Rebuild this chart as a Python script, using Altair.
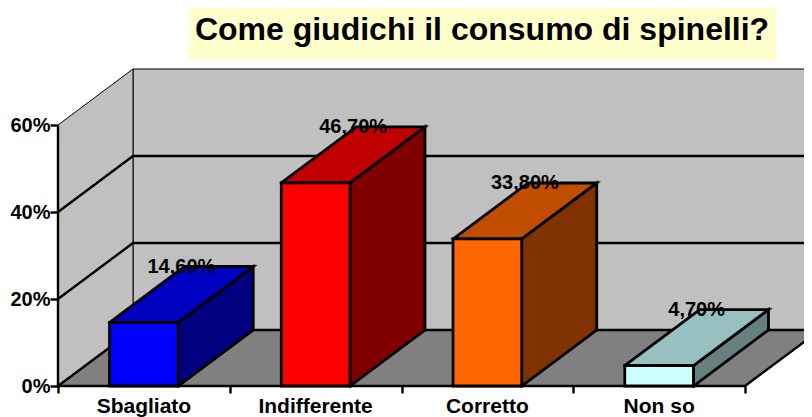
import altair as alt
import pandas as pd

categories = ["Sbagliato", "Indifferente", "Corretto", "Non so"]
values = [14.6, 46.7, 33.8, 4.7]
labels = ["14,60%", "46,70%", "33,80%", "4,70%"]
front_colors = ["#0000FF", "#FF0000", "#FF6600", "#CCFFFF"]
top_colors = ["#0000C0", "#C00000", "#C04D00", "#99C0C0"]
side_colors = ["#000080", "#800000", "#803300", "#668080"]
y_ticks = [0, 20, 40, 60]
title_text = "Come giudichi il consumo di spinelli?"

FONT = "Liberation Sans"
DX = 0.4367   # oblique projection: depth in category units
DY = 12.87    # oblique projection: depth in percent units
BAR_A, BAR_B = 0.3, 0.7
N = len(categories)
TOP = y_ticks[-1]

faces = []


def add_face(name, fill, stroke_width, pts):
    closed = pts + [pts[0]]
    for k, (x, y) in enumerate(closed):
        faces.append(dict(face=name, fill=fill, sw=stroke_width, k=k, x=x, y=y))


add_face("00back", "#C0C0C0", 1, [(DX, DY), (N + DX + 1, DY), (N + DX + 1, TOP + DY), (DX, TOP + DY)])
add_face("01left", "#C0C0C0", 1, [(0, 0), (DX, DY), (DX, TOP + DY), (0, TOP)])
add_face("02floor", "#808080", 2.4, [(0, 0), (N, 0), (N + DX, DY), (DX, DY)])

for i, v in enumerate(values):
    a, b = i + BAR_A, i + BAR_B
    p = f"{i + 10}"
    add_face(p + "a", side_colors[i], 2.8, [(b, 0), (b + DX, DY), (b + DX, v + DY), (b, v)])
    add_face(p + "b", top_colors[i], 2.8, [(a, v), (b, v), (b + DX, v + DY), (a + DX, v + DY)])
    add_face(p + "c", front_colors[i], 2.8, [(a, 0), (b, 0), (b, v), (a, v)])

wall_faces = pd.DataFrame([f for f in faces if f["face"] < "03"])
bar_faces = pd.DataFrame([f for f in faces if f["face"] >= "03"])

grid = []
for t in y_ticks[1:-1]:
    grid += [
        dict(g=t, k=0, x=0, y=t),
        dict(g=t, k=1, x=DX, y=t + DY),
        dict(g=t, k=2, x=N + DX + 1, y=t + DY),
    ]
grid += [dict(g=0, k=0, x=0, y=0), dict(g=0, k=1, x=0, y=TOP)]
grid_df = pd.DataFrame(grid)

xs = alt.Scale(domain=[0, 746 / 171.75], nice=False, zero=False)
ys = alt.Scale(domain=[0, 378 / 4.35], nice=False, zero=False)

x_axis = alt.Axis(values=list(range(N + 1)), labels=False, domain=False, grid=False,
                  tickColor="black", tickWidth=2.4, tickSize=7, title=None)
y_axis = alt.Axis(values=y_ticks, labelExpr="datum.value + '%'", domain=False, grid=False,
                  tickColor="black", tickWidth=2.4, tickSize=8, labelPadding=0,
                  labelFont=FONT, labelFontWeight="bold", labelFontSize=20,
                  labelColor="black", labelOverlap=False, title=None)
X = alt.X("x:Q", scale=xs, axis=x_axis)
Y = alt.Y("y:Q", scale=ys, axis=y_axis)


def polygons(df):
    return (
        alt.Chart(df)
        .mark_line(stroke="black", strokeJoin="miter", strokeCap="square")
        .encode(
            x=X,
            y=Y,
            detail="face:N",
            order="k:Q",
            fill=alt.Fill("fill:N", scale=None),
            strokeWidth=alt.StrokeWidth("sw:Q", scale=None),
        )
    )


walls = polygons(wall_faces)
bars = polygons(bar_faces)

grid_lines = (
    alt.Chart(grid_df)
    .mark_line(stroke="black", strokeWidth=2.4)
    .encode(x=X, y=Y, detail="g:N", order="k:Q")
)

label_df = pd.DataFrame(
    {
        "x": [i + 0.5 + DX / 2 for i in range(N)],
        "y": [v + DY for v in values],
        "t": labels,
    }
)
value_text = (
    alt.Chart(label_df)
    .mark_text(font=FONT, fontWeight="bold", fontSize=20, color="black", baseline="middle", align="center")
    .encode(x=X, y=Y, text="t:N")
)

cat_df = pd.DataFrame({"x": [i + 0.5 for i in range(N)], "y": [0] * N, "t": categories})
cat_text = (
    alt.Chart(cat_df)
    .mark_text(font=FONT, fontWeight="bold", fontSize=21, color="black", baseline="middle", align="center", dy=21)
    .encode(x=X, y=Y, text="t:N")
)

title_box = (
    alt.Chart(pd.DataFrame({"a": [0]}))
    .mark_rect(color="#FFFFCC")
    .encode(x=alt.value(131), x2=alt.value(718), y=alt.value(-6), y2=alt.value(52))
)
title_mark = (
    alt.Chart(pd.DataFrame({"t": [title_text]}))
    .mark_text(font=FONT, fontWeight="bold", fontSize=32, color="black", baseline="middle", align="center")
    .encode(x=alt.value(424), y=alt.value(22), text="t:N")
)

chart = (
    alt.layer(walls, grid_lines, bars, value_text, cat_text, title_box, title_mark)
    .properties(
        width=746,
        height=378,
        autosize="none",
        padding={"left": 50, "top": 0, "right": 0, "bottom": 31},
        background="white",
    )
    .configure_view(stroke=None)
)

chart.save("out.html", embed_options={"renderer": "svg", "actions": False})
